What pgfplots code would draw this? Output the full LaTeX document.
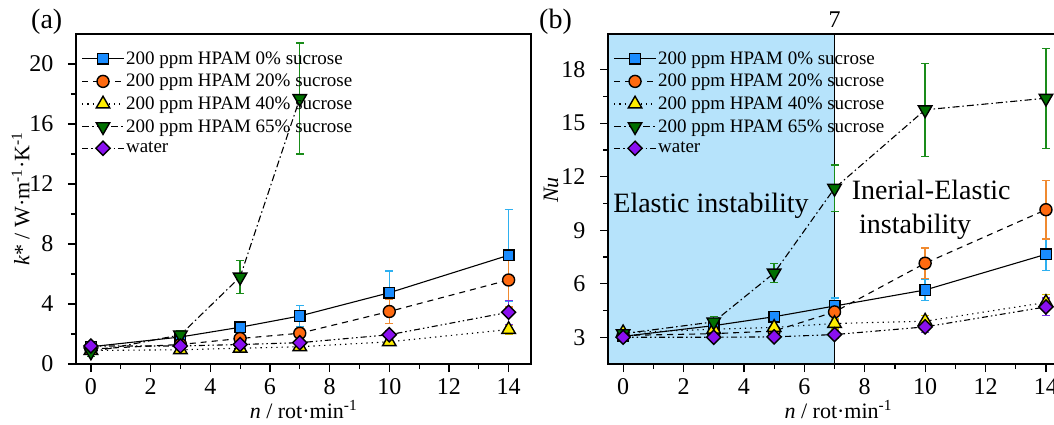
\documentclass[border=0pt]{standalone}
\usepackage{pgfplots}
\pgfplotsset{compat=1.18}
\usepackage{fontspec}
\setmainfont{Liberation Serif}

\definecolor{cblue}{HTML}{1A8CFF}
\definecolor{eblue}{HTML}{2EB0F0}
\definecolor{corange}{HTML}{FF6A10}
\definecolor{eorange}{HTML}{F08A30}
\definecolor{cyellow}{HTML}{FFEE00}
\definecolor{eyellow}{HTML}{D8C000}
\definecolor{cgreen}{HTML}{007000}
\definecolor{egreen}{HTML}{1A8C1A}
\definecolor{cpurple}{HTML}{8A10F0}
\definecolor{epurple}{HTML}{7A30E8}
\definecolor{elasticbg}{HTML}{B6E3FB}

\newcommand{\ticksize}{\fontsize{24bp}{28bp}\selectfont}
\newcommand{\labsize}{\fontsize{22bp}{26bp}\selectfont}
\newcommand{\legsize}{\fontsize{19bp}{22bp}\selectfont}
\newcommand{\annsize}{\fontsize{28bp}{32bp}\selectfont}

\pgfplotsset{
  panel/.style={
    scale only axis, height=330bp, anchor=south west,
    xmin=-0.5, xmax=14.75,
    xtick={0,2,...,14}, minor x tick num=1, minor y tick num=1,
    tick align=outside, tick pos=left,
    major tick length=8bp, minor tick length=5bp,
    axis line style={line width=1.5bp},
    every tick/.style={black, line width=1.2bp},
    tick label style={font=\ticksize},
    xticklabel style={yshift=-3bp},
    yticklabel style={xshift=-11bp},
    /pgf/number format/assume math mode=true,
    label style={font=\labsize},
    xlabel style={at={(axis description cs:0.5,-0.165)}, anchor=base},
    legend style={at={(axis description cs:0.005,0.959)}, anchor=north west,
      draw=none, fill=none, font=\legsize, row sep=4.5bp,
      nodes={inner xsep=1.5bp}},
    legend cell align=left,
    legend image code/.code={
      \draw[mark repeat=2, mark phase=2, #1] plot coordinates {(0bp,0bp) (21bp,0bp) (42bp,0bp)};
    },
    clip=false,
  },
  eb/.style={error bars/.cd, y dir=both, y explicit,
    error bar style={#1, line width=1.3bp, solid},
    error mark options={#1, rotate=90, mark size=4bp, line width=1.3bp, solid}},
  s0/.style={black, solid, line width=1.1bp, mark=square*, mark size=5.3bp,
    mark options={solid, draw=black, fill=cblue, line width=1.4bp}, eb=eblue},
  s20/.style={black, dash pattern=on 6bp off 5bp, line width=1.1bp, mark=*, mark size=6bp,
    mark options={solid, draw=black, fill=corange, line width=1.4bp}, eb=eorange},
  s40/.style={black, dash pattern=on 1.3bp off 4bp, line width=1.1bp, mark=triangle*, mark size=7.8bp,
    mark options={solid, draw=black, fill=cyellow, line width=1.4bp}, eb=eyellow},
  s65/.style={black, dash pattern=on 7bp off 3bp on 1.5bp off 3bp, line width=1.1bp, mark=triangle*, mark size=7.8bp,
    mark options={solid, draw=black, fill=cgreen, line width=1.4bp, rotate=180}, eb=egreen},
  sw/.style={black, dash pattern=on 6bp off 3bp on 1.5bp off 3bp on 1.5bp off 3bp, line width=1.1bp, mark=square*, mark size=5bp,
    mark options={solid, draw=black, fill=cpurple, line width=1.4bp, rotate=45}, eb=epurple},
}

\begin{document}
\begin{tikzpicture}

% (a) effective thermal conductivity
\begin{axis}[panel, at={(76bp,61bp)}, width=455bp,
  ymin=0, ymax=22, ytick={0,4,...,20},
  xlabel={\textit{n} / rot·min\textsuperscript{-1}},
  ylabel={\textit{k}* / W·m\textsuperscript{-1}·K\textsuperscript{-1}},
  ylabel style={at={(axis description cs:-0.094,0.5)}, anchor=south},
]
\addplot[s0] table[y error=e] {
x y e
0 1.15 0.15
3 1.8 0.2
5 2.45 0.4
7 3.2 0.7
10 4.75 1.45
14 7.25 3.05
};
\addlegendentry{200 ppm HPAM 0\% sucrose}
\addplot[s20] table[y error=e] {
x y e
0 1.0 0.15
3 1.3 0.2
5 1.7 0.3
7 2.05 0.35
10 3.5 0.8
14 5.6 1.8
};
\addlegendentry{200 ppm HPAM 20\% sucrose}
\addplot[s40] table[y error=e] {
x y e
0 0.9 0.1
3 0.95 0.1
5 1.05 0.15
7 1.15 0.15
10 1.48 0.2
14 2.3 0.3
};
\addlegendentry{200 ppm HPAM 40\% sucrose}
\addplot[s65] table[y error=e] {
x y e
0 0.8 0.3
3 1.94 0.3
5 5.8 1.1
7 17.7 3.7
};
\addlegendentry{200 ppm HPAM 65\% sucrose}
\addplot[sw] table[y error=e] {
x y e
0 1.2 0.2
3 1.2 0.25
5 1.3 0.3
7 1.42 0.3
10 1.95 0.3
14 3.45 0.8
};
\addlegendentry{water}
\end{axis}

% (b) Nusselt number
\begin{axis}[panel, at={(608bp,61bp)}, width=460.6bp, axis on top,
  ymin=1.5, ymax=20, ytick={3,6,...,18},
  xlabel={\textit{n} / rot·min\textsuperscript{-1}},
  ylabel={\textit{Nu}},
  ylabel style={at={(axis description cs:-0.1,0.527)}, anchor=south},
]
\fill[elasticbg] (axis cs:-0.5,1.5) rectangle (axis cs:7,20);
\draw[black, line width=1.3bp] (axis cs:7,1.5) -- (axis cs:7,20);
\addplot[s0] table[y error=e] {
x y e
0 3.05 0.15
3 3.65 0.25
5 4.15 0.3
7 4.75 0.45
10 5.65 0.6
14 7.65 0.9
};
\addlegendentry{200 ppm HPAM 0\% sucrose}
\addplot[s20] table[y error=e] {
x y e
0 3.1 0.2
3 3.2 0.2
5 3.35 0.3
7 4.42 0.45
10 7.15 0.85
14 10.15 1.65
};
\addlegendentry{200 ppm HPAM 20\% sucrose}
\addplot[s40] table[y error=e] {
x y e
0 3.25 0.2
3 3.45 0.2
5 3.55 0.3
7 3.77 0.3
10 3.9 0.3
14 4.95 0.45
};
\addlegendentry{200 ppm HPAM 40\% sucrose}
\addplot[s65] table[y error=e] {
x y e
0 3.2 0.2
3 3.86 0.3
5 6.6 0.55
7 11.35 1.3
10 15.75 2.6
14 16.4 2.8
};
\addlegendentry{200 ppm HPAM 65\% sucrose}
\addplot[sw] table[y error=e] {
x y e
0 3.0 0.15
3 3.0 0.15
5 3.02 0.15
7 3.15 0.2
10 3.58 0.3
14 4.7 0.5
};
\addlegendentry{water}
\node[font=\annsize, anchor=base] at (axis cs:2.91,10.0) {Elastic instability};
\node[font=\annsize, anchor=base] at (axis cs:10.2,10.7) {Inerial-Elastic};
\node[font=\annsize, anchor=base] at (axis cs:9.67,8.84) {instability};
\node[font=\ticksize, anchor=base] at (axis cs:7,20) [yshift=6bp] {7};
\end{axis}

\node[font=\annsize, anchor=base west, inner sep=0pt] at (31bp,396bp) {(a)};
\node[font=\annsize, anchor=base west, inner sep=0pt] at (539bp,396bp) {(b)};

\pgfresetboundingbox
\path[use as bounding box] (0bp,0bp) rectangle (1054bp,425bp);
\end{tikzpicture}
\end{document}
